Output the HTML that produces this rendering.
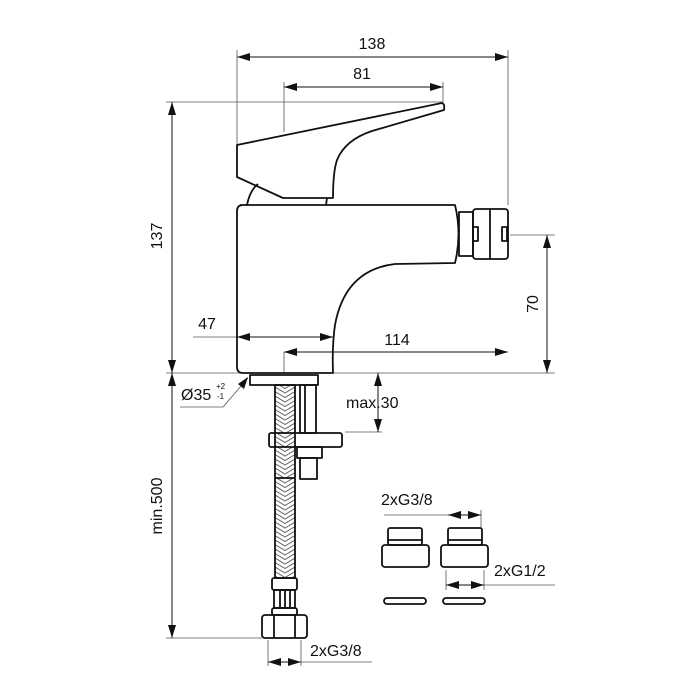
<!DOCTYPE html>
<html><head><meta charset="utf-8"><style>
html,body{margin:0;padding:0;background:#fff;}
svg{display:block;}
text{font-family:"Liberation Sans",Arial,sans-serif;fill:#111;}
</style></head><body>
<svg width="699" height="699" viewBox="0 0 699 699" xmlns="http://www.w3.org/2000/svg">
<defs>
<pattern id="braid" x="275" y="0" width="20" height="9" patternUnits="userSpaceOnUse">
<path d="M0 0 L10 6 L20 0 M0 4.5 L10 10.5 L20 4.5 M0 -4.5 L10 1.5 L20 -4.5" stroke="#666" stroke-width="1" fill="none"/>
</pattern>
</defs>
<g stroke="#555" stroke-width="0.8" fill="none">
<line x1="237" y1="50" x2="237" y2="145"/>
<line x1="508" y1="50" x2="508" y2="205"/>
<line x1="284" y1="82" x2="284" y2="132"/>
<line x1="443" y1="82" x2="443" y2="102"/>
<line x1="166" y1="102" x2="443" y2="102"/>
<line x1="166" y1="373" x2="555" y2="373"/>
<line x1="510" y1="235" x2="555" y2="235"/>
<line x1="193" y1="337" x2="237" y2="337"/>
<line x1="284" y1="352" x2="284" y2="373"/>
<line x1="166" y1="638" x2="262" y2="638"/>
<line x1="345" y1="432" x2="382" y2="432"/>
<line x1="268" y1="640" x2="268" y2="666"/>
<line x1="301" y1="640" x2="301" y2="666"/>
<line x1="301" y1="662" x2="372" y2="662"/>
<line x1="384" y1="515" x2="481" y2="515"/>
<line x1="481" y1="510" x2="481" y2="528"/>
<line x1="446" y1="570" x2="446" y2="590"/>
<line x1="484" y1="570" x2="484" y2="590"/>
<line x1="484" y1="585" x2="555" y2="585"/>
<polyline points="248,378 223,407 180,407"/>
</g>
<g stroke="#111" stroke-width="1" fill="none">
<line x1="237" y1="57" x2="508" y2="57"/>
<line x1="284" y1="87" x2="443" y2="87"/>
<line x1="172" y1="102" x2="172" y2="373"/>
<line x1="547" y1="235" x2="547" y2="373"/>
<line x1="237" y1="337" x2="333" y2="337"/>
<line x1="284" y1="352" x2="508" y2="352"/>
<line x1="172" y1="373" x2="172" y2="638"/>
<line x1="378" y1="373" x2="378" y2="432"/>
<line x1="268" y1="662" x2="301" y2="662"/>
<line x1="448" y1="515" x2="481" y2="515"/>
<line x1="446" y1="585" x2="484" y2="585"/>
</g>
<g fill="#111">
<polygon points="237,57 250,53 250,61"/><polygon points="508,57 495,53 495,61"/>
<polygon points="284,87 297,83 297,91"/><polygon points="443,87 430,83 430,91"/>
<polygon points="172,102 168,115 176,115"/><polygon points="172,373 168,360 176,360"/>
<polygon points="547,235 543,248 551,248"/><polygon points="547,373 543,360 551,360"/>
<polygon points="237,337 250,333 250,341"/><polygon points="333,337 320,333 320,341"/>
<polygon points="284,352 297,348 297,356"/><polygon points="508,352 495,348 495,356"/>
<polygon points="172,373 168,386 176,386"/><polygon points="172,638 168,625 176,625"/>
<polygon points="378,373 374,386 382,386"/><polygon points="378,432 374,419 382,419"/>
<polygon points="268,662 281,658 281,666"/><polygon points="301,662 288,658 288,666"/>
<polygon points="448,515 461,511 461,519"/><polygon points="481,515 468,511 468,519"/>
<polygon points="446,585 459,581 459,589"/><polygon points="484,585 471,581 471,589"/>
<polygon points="248,377 238,384 244,389"/>
</g>
<g stroke="#111" stroke-width="1.8" fill="none" stroke-linejoin="round">
<path d="M237,145 L442,103 Q445,104 444,110 L372,131 Q345,140 337,160 Q333,172 333,198 L283,198 L237,177 Z"/>
<path d="M247,205 Q250,190 258,184"/>
<path d="M327,198 L326,205"/>
<path d="M240,205 L455,205 Q462,234 455,263 L395,264 Q345,270 335,325 Q332,345 333,373 L243,373 Q237,373 237,367 L237,211 Q237,205 243,205"/>
<rect x="459" y="212" width="14" height="44"/>
<rect x="473" y="209" width="35" height="50" rx="3"/>
<line x1="490" y1="209" x2="490" y2="259"/>
<rect x="473" y="227" width="5" height="14"/>
<rect x="502" y="227" width="5" height="14"/>
<rect x="250" y="375" width="68" height="10"/>
<rect x="275" y="385" width="20" height="193" fill="url(#braid)"/>
<line x1="275" y1="478" x2="295" y2="478"/>
<rect x="300" y="385" width="16" height="48"/>
<line x1="305" y1="385" x2="305" y2="433"/>
<rect x="269" y="433" width="73" height="14" rx="2"/>
<rect x="297" y="447" width="25" height="11"/>
<rect x="300" y="458" width="17" height="21"/>
<rect x="272" y="578" width="25" height="12" rx="2"/>
<rect x="274" y="590" width="21" height="18"/>
<line x1="280" y1="590" x2="280" y2="608"/><line x1="285" y1="590" x2="285" y2="608"/><line x1="290" y1="590" x2="290" y2="608"/>
<rect x="272" y="608" width="25" height="7" rx="2"/>
<rect x="262" y="615" width="45" height="23" rx="3"/>
<line x1="274" y1="615" x2="274" y2="638"/><line x1="295" y1="615" x2="295" y2="638"/>
<rect x="388" y="528" width="34" height="17" rx="2"/>
<line x1="388" y1="540" x2="422" y2="540"/>
<rect x="382" y="545" width="47" height="22" rx="3"/>
<rect x="448" y="528" width="34" height="17" rx="2"/>
<line x1="448" y1="540" x2="482" y2="540"/>
<rect x="441" y="545" width="47" height="22" rx="3"/>
<rect x="384" y="598" width="42" height="6" rx="3"/>
<rect x="443" y="598" width="42" height="6" rx="3"/>
</g>
<g font-size="16">
<text x="372" y="49" text-anchor="middle">138</text>
<text x="362" y="79" text-anchor="middle">81</text>
<text x="207" y="329" text-anchor="middle">47</text>
<text x="397" y="345" text-anchor="middle">114</text>
<text x="346" y="408">max.30</text>
<text x="310" y="656">2xG3/8</text>
<text x="381" y="505">2xG3/8</text>
<text x="494" y="576">2xG1/2</text>
<text x="181" y="400">Ø35</text>
<text transform="translate(162,236) rotate(-90)" text-anchor="middle">137</text>
<text transform="translate(538,304) rotate(-90)" text-anchor="middle">70</text>
<text transform="translate(162,506) rotate(-90)" text-anchor="middle">min.500</text>
</g>
<text x="216" y="389" font-size="8">+2</text>
<text x="217" y="399" font-size="8">-1</text>
</svg>
</body></html>
